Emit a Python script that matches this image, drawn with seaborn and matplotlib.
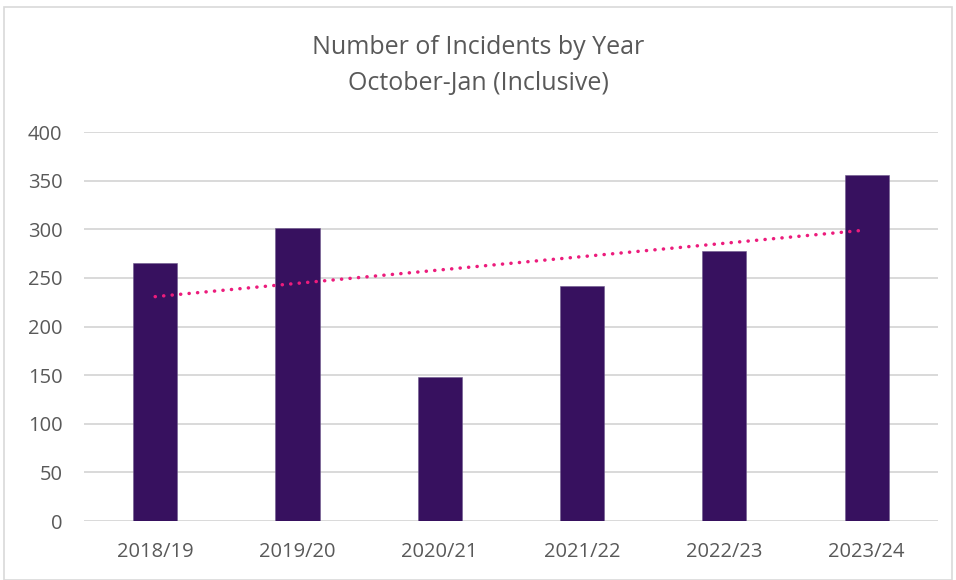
import numpy as np
import pandas as pd
import matplotlib
matplotlib.use("Agg")
import matplotlib.pyplot as plt
import seaborn as sns

# Incidents recorded October-January (inclusive) for each season
seasons = ["2018/19", "2019/20", "2020/21", "2021/22", "2022/23", "2023/24"]
incidents = [265, 301, 148, 242, 278, 356]
y_ticks = [0, 50, 100, 150, 200, 250, 300, 350, 400]

BAR_COLOR = "#37115F"
TREND_COLOR = "#EC1C7C"
GRID_COLOR = "#D9D9D9"
TEXT_COLOR = "#595959"

sns.set_theme(style="white")
plt.rcParams["font.family"] = ["Open Sans", "DejaVu Sans"]

df = pd.DataFrame({"season": seasons, "incidents": incidents})

fig = plt.figure(figsize=(9.56, 5.8), dpi=100)
ax = fig.add_axes([0.0879, 0.1017, 0.893, 0.6707])

sns.barplot(data=df, x="season", y="incidents", color=BAR_COLOR,
            saturation=1, width=0.31, ax=ax, zorder=3,
            edgecolor="#6E5A8C", linewidth=0.4)

# Linear trendline through the yearly values
xs = np.arange(len(incidents))
slope, intercept = np.polyfit(xs, incidents, 1)
ax.plot(xs, slope * xs + intercept, color=TREND_COLOR, lw=2.5,
        linestyle=(0, (0.05, 2.4)), dash_capstyle="round", zorder=4)

ax.set_ylim(0, 400)
ax.set_xlim(-0.5, len(seasons) - 0.5)
ax.set_yticks(y_ticks)
ax.yaxis.grid(True, color=GRID_COLOR, lw=1.4, zorder=0)
ax.set_axisbelow(True)
for s in ax.spines.values():
    s.set_visible(False)
ax.set_xlabel("")
ax.set_ylabel("")
ax.tick_params(axis="y", length=0, pad=15.5, labelsize=14.5, labelcolor=TEXT_COLOR)
ax.tick_params(axis="x", length=0, pad=15, labelsize=14.5, labelcolor=TEXT_COLOR)

fig.text(0.5, 0.9069, "Number of Incidents by Year", ha="center", va="baseline",
         fontsize=18, color=TEXT_COLOR)
fig.text(0.5, 0.8448, "October-Jan (Inclusive)", ha="center", va="baseline",
         fontsize=18, color=TEXT_COLOR)

# Light chart-area border
fig.patches.append(plt.Rectangle((0.004, 0.0), 0.992, 0.988, transform=fig.transFigure,
                                 fill=False, edgecolor="#D9D9D9", lw=1.2))

fig.savefig("out.png", dpi=100, facecolor="white")
